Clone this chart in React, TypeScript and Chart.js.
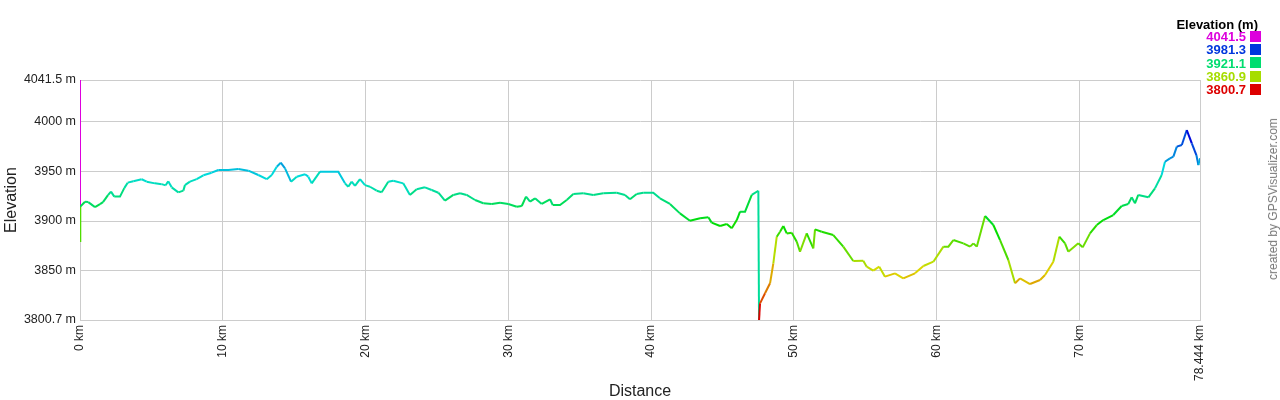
import React, { useEffect, useRef } from "react";
import { Chart, registerables } from "chart.js";

Chart.register(...registerables);

const distanceKm: number[] = [
  0, 0, 0.02, 0.35, 0.58, 1.05, 1.4, 1.61, 1.96, 2.17, 2.4, 2.8, 3.1, 3.34, 3.73, 4.32, 4.67, 5.25, 5.72, 6.0,
  6.18, 6.42, 6.89, 7.24, 7.35, 7.7, 8.17, 8.64, 9.22, 9.69, 10.39, 11.09, 11.79, 12.49, 13.08, 13.43, 13.78, 14.06, 14.36, 14.78,
  15.18, 15.76, 15.99, 16.23, 16.81, 17.39, 18.09, 18.56, 18.79, 19.03, 19.26, 19.61, 19.96, 20.31, 20.78, 21.13, 21.59, 21.94, 22.64, 23.11,
  23.58, 24.16, 24.63, 25.1, 25.56, 26.15, 26.62, 27.08, 27.67, 28.25, 28.84, 29.42, 30.0, 30.59, 30.94, 31.24, 31.52, 31.87, 32.34, 32.92,
  33.11, 33.62, 34.09, 34.55, 35.25, 35.95, 36.65, 37.59, 38.17, 38.52, 38.99, 39.45, 40.15, 40.62, 41.32, 42.02, 42.72, 43.43, 44.01, 44.24,
  44.83, 45.3, 45.65, 46.0, 46.23, 46.58, 47.05, 47.51, 47.56, 47.63, 47.98, 48.33, 48.56, 48.8, 49.03, 49.26, 49.5, 49.85, 50.2, 50.43,
  50.9, 51.36, 51.48, 51.95, 52.76, 53.46, 54.16, 54.86, 55.1, 55.56, 55.98, 56.38, 57.08, 57.66, 58.48, 59.07, 59.77, 60.47, 60.82, 61.17,
  61.87, 62.34, 62.57, 62.81, 63.39, 63.97, 64.44, 65.02, 65.49, 65.84, 66.54, 67.24, 67.59, 68.17, 68.59, 68.99, 69.22, 69.92, 70.23, 70.74,
  71.21, 71.67, 72.37, 72.96, 73.42, 73.66, 73.89, 74.12, 74.83, 75.29, 75.76, 75.99, 76.34, 76.58, 76.82, 77.17, 77.52, 77.87, 78.19, 78.33,
  78.444,
];

const elevationM: number[] = [
  4041.5, 3880, 3914.4, 3919.4, 3919, 3914, 3917, 3919, 3926, 3929.5, 3924.5, 3924.5, 3933, 3938.5, 3940, 3941.9, 3939.5, 3937.8, 3937, 3935.8,
  3940, 3933.8, 3928.8, 3930.5, 3936, 3939.5, 3942, 3945.9, 3948.5, 3951.2, 3951.2, 3952.2, 3950.5, 3946.2, 3942, 3946.2, 3954.5, 3958.5, 3952.9, 3939.5,
  3944.5, 3946.9, 3944.5, 3937.8, 3949.5, 3949.5, 3949.5, 3937.8, 3934.4, 3939.5, 3935.2, 3942, 3936, 3934.4, 3930.4, 3928.8, 3939.5, 3940.5, 3937.8, 3926.2,
  3931.8, 3933.8, 3931.1, 3928.4, 3920.4, 3926.2, 3927.8, 3926.2, 3921.1, 3917.8, 3917.1, 3918.4, 3917.1, 3914.4, 3915.1, 3924.5, 3919.4, 3922.8, 3917.1, 3921.8,
  3916.1, 3916.1, 3921.1, 3927.1, 3927.8, 3926.2, 3927.8, 3928.4, 3926.2, 3921.8, 3927.1, 3928.4, 3928.4, 3922.8, 3917.1, 3907.7, 3900.3, 3902.7, 3903.7, 3898.4,
  3895, 3897, 3892.7, 3901, 3909.4, 3909.4, 3926.2, 3930.4, 3800.7, 3817.4, 3827.5, 3837.5, 3857.6, 3884.3, 3889.3, 3895, 3887.6, 3888.3, 3879.3, 3869.2,
  3887.6, 3872.6, 3891.6, 3889.3, 3885.9, 3874.3, 3859.9, 3860.2, 3854.2, 3850.2, 3854.2, 3844.2, 3847.5, 3842.5, 3847.5, 3854.9, 3859.2, 3874.3, 3874.3, 3880.9,
  3877.6, 3874.3, 3877.6, 3874.3, 3905, 3896, 3880.9, 3860.9, 3837.5, 3842.5, 3836.8, 3840.8, 3845.9, 3859.2, 3884.3, 3877.6, 3869.2, 3877.6, 3873.6, 3887.6,
  3896, 3901, 3906, 3915.1, 3917.1, 3923.8, 3917.8, 3926.2, 3923.8, 3932.8, 3946.2, 3959.5, 3962.9, 3964.6, 3974.6, 3976.3, 3991.3, 3978, 3966.2, 3956.1,
  3962.9,
];

const xTickValues: number[] = [0, 10, 20, 30, 40, 50, 60, 70, 78.444];
const yTickValues: number[] = [3800.7, 3850, 3900, 3950, 4000, 4041.5];
const legendValues: number[] = [4041.5, 3981.3, 3921.1, 3860.9, 3800.7];

const Y_MIN = 3800.7;
const Y_MAX = 4041.5;
const X_MAX = 78.444;
const FONT = '"Liberation Sans", Arial, sans-serif';

function elevColor(e: number): string {
  const h = Math.max(0, Math.min(300, (300 * (e - Y_MIN)) / (Y_MAX - Y_MIN)));
  const c = 221;
  const x = Math.round(c * (1 - Math.abs(((h / 60) % 2) - 1)));
  const seg = Math.min(5, Math.floor(h / 60));
  const rgb = [
    [c, x, 0],
    [x, c, 0],
    [0, c, x],
    [0, x, c],
    [x, 0, c],
    [c, 0, x],
  ][seg];
  return `rgb(${rgb[0]},${rgb[1]},${rgb[2]})`;
}

export default function App() {
  const canvasRef = useRef<HTMLCanvasElement | null>(null);

  useEffect(() => {
    if (!canvasRef.current) return;
    const points = distanceKm.map((d, i) => ({ x: d, y: elevationM[i] }));
    const chart = new Chart(canvasRef.current, {
      type: "line",
      data: {
        datasets: [
          {
            data: points,
            borderWidth: 2,
            pointRadius: 0,
            tension: 0,
            borderColor: elevColor(3920),
            segment: {
              borderColor: (ctx: any) => elevColor(ctx.p0.parsed.y),
            },
          },
        ],
      },
      options: {
        animation: false,
        responsive: false,
        maintainAspectRatio: false,
        layout: { padding: { top: 80, right: 80, left: 0, bottom: 0 } },
        plugins: { legend: { display: false }, tooltip: { enabled: false } },
        scales: {
          x: {
            type: "linear",
            min: 0,
            max: X_MAX,
            afterFit: (s: any) => {
              s.height = 80;
            },
            afterBuildTicks: (s: any) => {
              s.ticks = xTickValues.map((v) => ({ value: v }));
            },
            grid: { color: "#cccccc", lineWidth: 1, drawTicks: false },
            border: { color: "#cccccc" },
            ticks: {
              autoSkip: false,
              minRotation: 90,
              maxRotation: 90,
              padding: 5,
              color: "#222222",
              font: { family: FONT, size: 12 },
              callback: (v: any) => `${v} km`,
            },
            title: {
              display: true,
              text: "Distance",
              color: "#222222",
              font: { family: FONT, size: 16, lineHeight: 1 },
              padding: { top: 0, bottom: 0 },
            },
          },
          y: {
            type: "linear",
            min: Y_MIN,
            max: Y_MAX,
            afterFit: (s: any) => {
              s.width = 80;
            },
            afterBuildTicks: (s: any) => {
              s.ticks = yTickValues.map((v) => ({ value: v }));
            },
            grid: { color: "#cccccc", lineWidth: 1, drawTicks: false },
            border: { color: "#cccccc" },
            ticks: {
              padding: 4,
              color: "#222222",
              font: { family: FONT, size: 12.5 },
              callback: (v: any) => `${v} m`,
            },
            title: {
              display: true,
              text: "Elevation",
              color: "#222222",
              font: { family: FONT, size: 16, lineHeight: 1 },
              padding: { top: 4, bottom: 0 },
            },
          },
        },
      },
    });
    return () => chart.destroy();
  }, []);

  return (
    <div style={{ position: "absolute", left: 0, top: 0, width: 1280, height: 400, background: "#fff", fontFamily: FONT }}>
      <canvas ref={canvasRef} width={1280} height={400} style={{ position: "absolute", left: 0, top: 0, width: 1280, height: 400 }} />
      <div
        style={{
          position: "absolute",
          right: 22,
          top: 18,
          fontSize: 13,
          lineHeight: "13px",
          fontWeight: "bold",
          color: "#000",
          whiteSpace: "nowrap",
        }}
      >
        Elevation (m)
      </div>
      {legendValues.map((v, i) => (
        <React.Fragment key={v}>
          <div
            style={{
              position: "absolute",
              right: 1280 - 1246,
              top: 30 + 13.33 * i,
              fontSize: 13,
              lineHeight: "13px",
              fontWeight: "bold",
              color: elevColor(v),
              whiteSpace: "nowrap",
            }}
          >
            {v.toFixed(1)}
          </div>
          <div
            style={{
              position: "absolute",
              left: 1250,
              top: 30.7 + 13.33 * i,
              width: 11,
              height: 11,
              background: elevColor(v),
            }}
          />
        </React.Fragment>
      ))}
      <div
        style={{
          position: "absolute",
          left: 1273,
          top: 199,
          transform: "translate(-50%, -50%) rotate(-90deg)",
          fontSize: 12,
          color: "#7a7a7a",
          whiteSpace: "nowrap",
        }}
      >
        created by GPSVisualizer.com
      </div>
    </div>
  );
}
